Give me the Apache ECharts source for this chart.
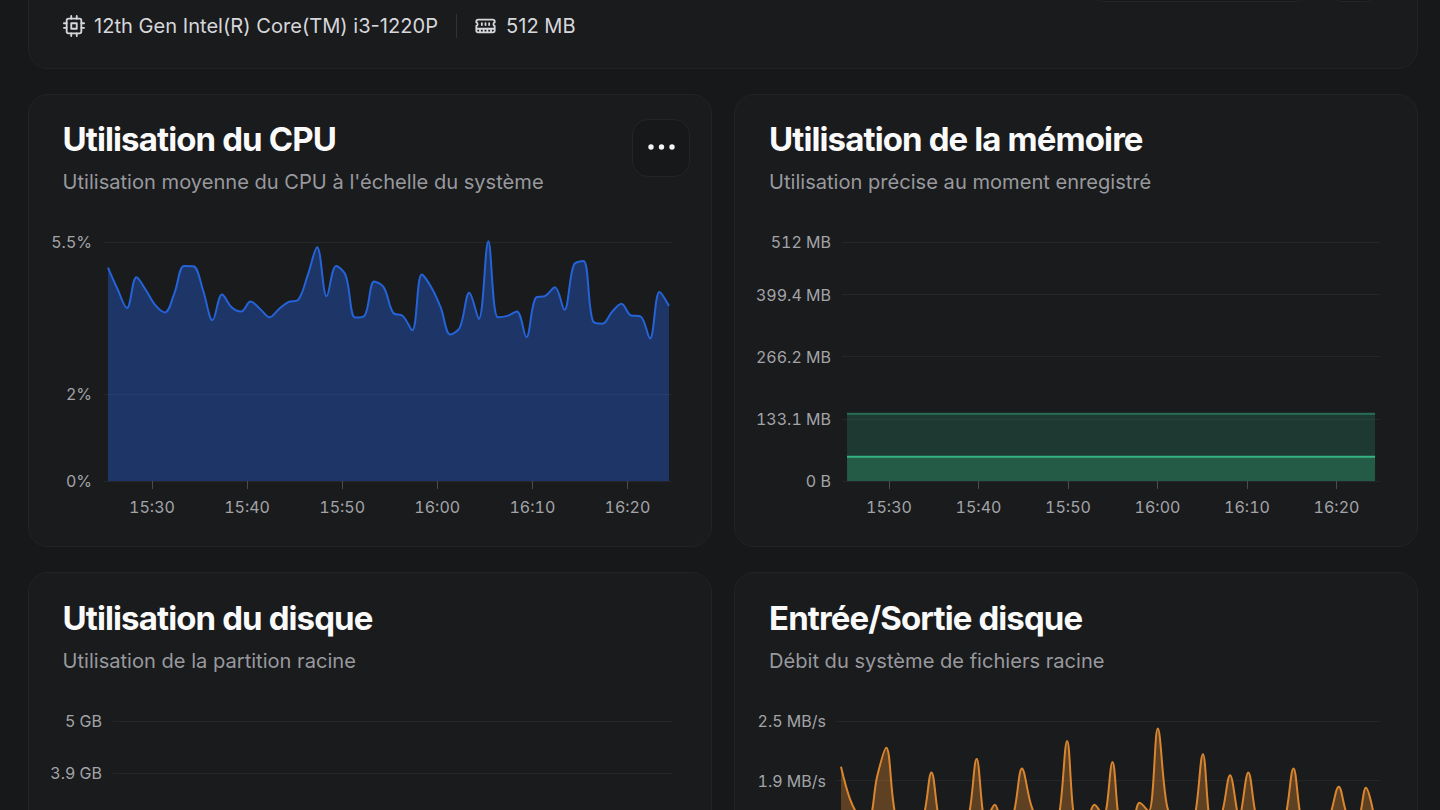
<!DOCTYPE html>
<html lang="fr">
<head>
<meta charset="utf-8">
<title>Tableau de bord système</title>
<script src="https://cdn.jsdelivr.net/npm/echarts@6/dist/echarts.min.js"></script>
<style>
  html, body { margin: 0; padding: 0; width: 1440px; height: 810px; overflow: hidden; background: #17181a; font-family: Inter, "Noto Sans", sans-serif; }
  #page { position: relative; width: 1440px; height: 810px; overflow: hidden; }
  .card { position: absolute; box-sizing: border-box; background: #1a1b1d; border: 1px solid #212326; border-radius: 20px; }
  .title { position: absolute; font-size: 33px; line-height: 40px; font-weight: 700; color: #fafafa; letter-spacing: -0.89px; white-space: nowrap; }
  .sub { position: absolute; font-size: 20.1px; line-height: 24px; color: #98999e; white-space: nowrap; }
  .info { position: absolute; font-size: 20.1px; line-height: 24px; color: #d6d7da; white-space: nowrap; }
  .btn { position: absolute; box-sizing: border-box; background: #17181a; border: 1px solid #232528; border-radius: 16px; }
  #main { position: absolute; left: 0; top: 0; width: 1440px; height: 1040px; }
  #main text { font-feature-settings: "tnum" 1; font-variant-numeric: tabular-nums; }
  svg.icon { position: absolute; }
</style>
</head>
<body>
<div id="page">
  <div class="card" style="left:28px;top:-60px;width:1390px;height:129px"></div>
  <div class="btn" style="left:1091px;top:-40px;width:217px;height:42px;border-radius:12px"></div>
  <div class="btn" style="left:1330px;top:-40px;width:48px;height:42px;border-radius:12px"></div>

  <svg class="icon" style="left:63px;top:15px" width="22" height="22" viewBox="0 0 24 24" fill="none" stroke="#d6d7da" stroke-width="2" stroke-linecap="round" stroke-linejoin="round"><rect x="4" y="4" width="16" height="16" rx="2"/><rect x="9" y="9" width="6" height="6"/><path d="M9 1v3M15 1v3M9 20v3M15 20v3M20 9h3M20 14h3M1 9h3M1 14h3"/></svg>
  <div class="info" style="left:94px;top:14px">12th Gen Intel(R) Core(TM) i3-1220P</div>
  <div style="position:absolute;left:456px;top:14px;width:1px;height:24px;background:#303236"></div>
  <svg class="icon" style="left:474px;top:15px" width="23" height="22" viewBox="0 0 24 24" fill="none" stroke="#d6d7da" stroke-width="2" stroke-linecap="round" stroke-linejoin="round"><path d="M6 19v-3M10 19v-3M14 19v-3M18 19v-3M8 11V9M16 11V9M12 11V9M2 15h20M2 7a2 2 0 0 1 2-2h16a2 2 0 0 1 2 2v1.1a2 2 0 0 0 0 3.8V17a2 2 0 0 1-2 2H4a2 2 0 0 1-2-2v-5.1a2 2 0 0 0 0-3.8z"/></svg>
  <div class="info" style="left:506px;top:14px">512 MB</div>

  <div class="card" style="left:28px;top:94px;width:684px;height:453px"></div>
  <div class="card" style="left:734px;top:94px;width:684px;height:453px"></div>
  <div class="card" style="left:28px;top:572px;width:684px;height:453px"></div>
  <div class="card" style="left:734px;top:572px;width:684px;height:453px"></div>

  <div class="title" style="left:62.5px;top:118.5px">Utilisation du CPU</div>
  <div class="sub" style="left:62.5px;top:170px">Utilisation moyenne du CPU à l'échelle du système</div>
  <div class="btn" style="left:632px;top:119px;width:58px;height:58px"></div>
  <svg class="icon" style="left:647px;top:140px" width="30" height="14" viewBox="0 0 30 14" fill="#f4f4f5"><circle cx="4" cy="7" r="2.7"/><circle cx="14.5" cy="7" r="2.7"/><circle cx="25" cy="7" r="2.7"/></svg>

  <div class="title" style="left:769px;top:118.5px">Utilisation de la mémoire</div>
  <div class="sub" style="left:769px;top:170px">Utilisation précise au moment enregistré</div>

  <div class="title" style="left:62.5px;top:597.5px">Utilisation du disque</div>
  <div class="sub" style="left:62.5px;top:649px">Utilisation de la partition racine</div>

  <div class="title" style="left:769px;top:597.5px">Entrée/Sortie disque</div>
  <div class="sub" style="left:769px;top:649px">Débit du système de fichiers racine</div>

  <div id="main"></div>
</div>
<script>
const timeTicks = ['15:30', '15:40', '15:50', '16:00', '16:10', '16:20'];

const cpuTicks = [0, 2, 5.5];
const cpuTickLabels = ['0%', '2%', '5.5%'];
const cpuValues = [
  4.91, 4.42, 3.98, 4.69, 4.39, 4.04, 3.88, 4.33, 4.95, 4.94,
  4.39, 3.70, 4.29, 4.00, 3.90, 4.13, 3.96, 3.77, 3.96, 4.12,
  4.17, 4.73, 5.38, 4.25, 4.95, 4.73, 3.76, 3.81, 4.59, 4.46,
  3.87, 3.80, 3.47, 4.75, 4.46, 3.99, 3.37, 3.53, 4.33, 3.73,
  5.52, 3.77, 3.80, 3.90, 3.31, 4.22, 4.26, 4.46, 3.94, 4.98,
  5.06, 3.68, 3.62, 3.89, 4.08, 3.81, 3.79, 3.28, 4.35, 4.03
];

const memTicks = [0, 133.1, 266.2, 399.4, 512];
const memTickLabels = ['0 B', '133.1 MB', '266.2 MB', '399.4 MB', '512 MB'];
const memUsed = [
  52, 52, 52, 52, 52, 52, 52, 52, 52, 52, 52, 52, 52, 52, 52, 52, 52, 52, 52, 52,
  52, 52, 52, 52, 52, 52, 52, 52, 52, 52, 52, 52, 52, 52, 52, 52, 52, 52, 52, 52,
  52, 52, 52, 52, 52, 52, 52, 52, 52, 52, 52, 52, 52, 52, 52, 52, 52, 52, 52, 52
];
const memTop = [
  144, 144, 144, 144, 144, 144, 144, 144, 144, 144, 144, 144, 144, 144, 144, 144, 144, 144, 144, 144,
  144, 144, 144, 144, 144, 144, 144, 144, 144, 144, 144, 144, 144, 144, 144, 144, 144, 144, 144, 144,
  144, 144, 144, 144, 144, 144, 144, 144, 144, 144, 144, 144, 144, 144, 144, 144, 144, 144, 144, 144
];

const diskTicks = [3.9, 5];
const diskTickLabels = ['3.9 GB', '5 GB'];

const ioTicks = [1.875, 2.5];
const ioTickLabels = ['1.9 MB/s', '2.5 MB/s'];
const ioValues = [
  2.02, 1.68, 1.50, 1.45, 1.92, 2.22, 1.52, 1.40, 1.40, 1.45,
  1.96, 1.40, 1.35, 1.40, 1.45, 2.10, 1.45, 1.62, 1.40, 1.50,
  2.00, 1.62, 1.40, 1.35, 1.45, 2.29, 1.45, 1.45, 1.62, 1.50,
  2.07, 1.40, 1.40, 1.64, 1.55, 2.42, 1.62, 1.40, 1.35, 1.45,
  2.15, 1.40, 1.50, 1.93, 1.50, 1.96, 1.45, 1.35, 1.35, 1.45,
  2.00, 1.40, 1.35, 1.35, 1.50, 1.81, 1.50, 1.45, 1.80, 1.45
];

const toMin = s => { const [h, m] = s.split(':').map(Number); return h * 60 + m; };
const toLabel = v => { const h = Math.floor(v / 60), m = Math.round(v - h * 60); return h + ':' + String(m).padStart(2, '0'); };
const pairs = (start, vals) => vals.map((v, i) => [start + i, v]);

const GRID = '#242629', TICK = '#4a4c50', LABEL = '#a2a4a8';
const xTicks = timeTicks.map(toMin);

function xAxis(idx, min, max, visible) {
  return {
    type: 'value', gridIndex: idx, min, max, position: 'bottom',
    axisLine: { show: false }, splitLine: { show: false },
    axisTick: { show: visible, length: 8, lineStyle: { color: TICK, width: 1 }, customValues: xTicks },
    axisLabel: { show: visible, color: LABEL, fontFamily: 'Inter', fontSize: 16, margin: 18, customValues: xTicks, formatter: toLabel }
  };
}
function yAxis(idx, max, ticks, labels, margin) {
  return {
    type: 'value', gridIndex: idx, min: 0, max,
    axisLine: { show: false },
    axisTick: { show: false, customValues: ticks },
    splitLine: { show: true, lineStyle: { color: GRID, width: 1 } },
    axisLabel: {
      show: true, color: LABEL, fontFamily: 'Inter', fontSize: 16, margin, padding: [2, 0, 0, 0],
      customValues: ticks, formatter: v => labels[ticks.indexOf(v)]
    }
  };
}
function area(idx, name, data, line, lineOpacity, fill, fillOpacity) {
  return {
    type: 'line', name, xAxisIndex: idx, yAxisIndex: idx, data,
    smooth: 0.35, showSymbol: false, clip: false, silent: true,
    lineStyle: { color: line, width: 2, opacity: lineOpacity },
    areaStyle: { color: fill, opacity: fillOpacity }
  };
}

const chart = echarts.init(document.getElementById('main'), null, { renderer: 'svg' });
chart.setOption({
  backgroundColor: 'transparent',
  animation: false,
  grid: [
    { left: 103, top: 242, width: 570, height: 239 },
    { left: 842, top: 242, width: 538, height: 239 },
    { left: 113, top: 721, width: 560, height: 238 },
    { left: 836, top: 721, width: 544, height: 238 }
  ],
  xAxis: [
    xAxis(0, 924.85, 984.79, true),
    xAxis(1, 924.75, 984.86, true),
    xAxis(2, 924.85, 984.79, false),
    xAxis(3, 924.75, 984.86, false)
  ],
  yAxis: [
    yAxis(0, 5.5, cpuTicks, cpuTickLabels, 11),
    yAxis(1, 512, memTicks, memTickLabels, 11),
    yAxis(2, 5, diskTicks, diskTickLabels, 11),
    yAxis(3, 2.5, ioTicks, ioTickLabels, 10)
  ],
  series: [
    area(0, 'CPU', pairs(925.37, cpuValues), '#2563d8', 1, '#2563eb', 0.36),
    area(1, 'Total', pairs(925.31, memTop), '#34b383', 0.5, '#34b383', 0.2),
    area(1, 'Utilisée', pairs(925.31, memUsed), '#34b383', 1, '#34b383', 0.28),
    area(3, 'E/S', pairs(925.3, ioValues), '#d9862f', 1, '#d9862f', 0.36)
  ]
});
</script>
</body>
</html>
